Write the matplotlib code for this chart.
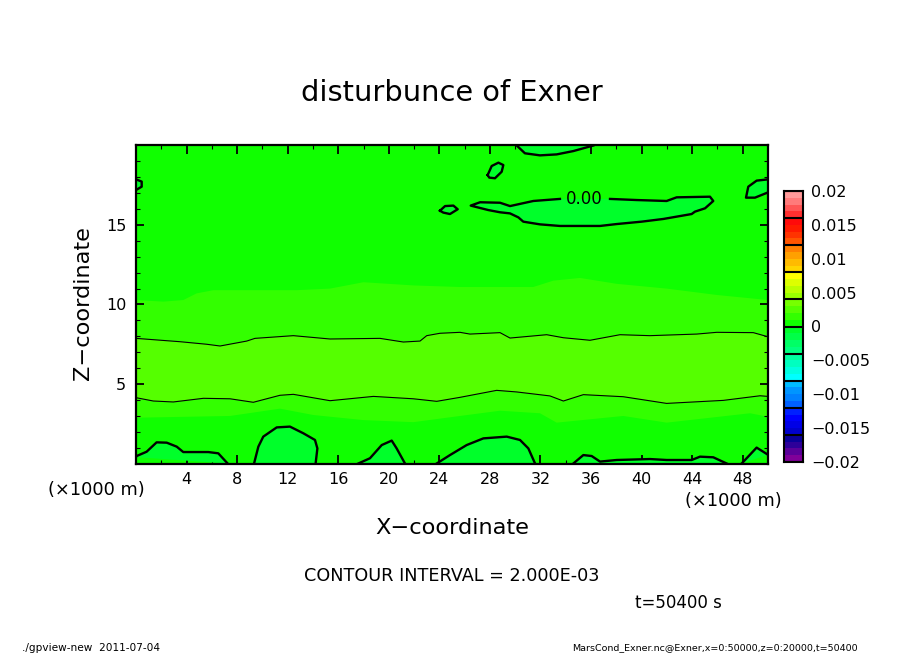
import numpy as np
from matplotlib import pyplot as plt
from matplotlib.colors import ListedColormap, BoundaryNorm

W, H = 904, 654

# colour bar, one shade for each 0.001 from -0.02 up to 0.02
shade_levels = np.arange(-20, 21) * 0.001
shades = [
    '#800099', '#5a0099', '#2d0099', '#0a0099',
    '#0000cc', '#0000e6', '#0000ff', '#0020ff',
    '#0060ff', '#0080ff', '#0095ff', '#00bbff',
    '#00ffff', '#00ffe0', '#00ffc0', '#00ffa0',
    '#00ff80', '#00ff66', '#00ff48', '#00ff2a',
    '#10ff00', '#33ff00', '#55ff00', '#77ff00',
    '#99ff00', '#bbff00', '#ddff00', '#ffff00',
    '#ffd500', '#ffbb00', '#ffa000', '#ff8000',
    '#ff5500', '#ff3300', '#ff1a00', '#ff0a0a',
    '#ff3030', '#ff5555', '#ff7a7a', '#ff9999',
]
shade_values = shade_levels[:-1] + 0.0005
bar_lines = np.arange(-5, 6) * 0.004
bar_ticks = [-0.02, -0.015, -0.01, -0.005, 0, 0.005, 0.01, 0.015, 0.02]
bar_labels = ['\u22120.02', '\u22120.015', '\u22120.01', '\u22120.005', '0', '0.005', '0.01', '0.015', '0.02']

# contour of 0.002, upper and lower one (km)
upper2_x = [0, 3.48, 5.59, 6.65, 8.76, 9.41, 12.45, 15.35, 19.3, 21.15, 22.47, 23.0, 24.05, 25.63, 26.42,
            28.8, 29.59, 32.49, 33.81, 35.92, 38.29, 40.66, 44.36, 45.94, 48.84, 50]
upper2_z = [7.87, 7.66, 7.5, 7.39, 7.7, 7.87, 8.04, 7.83, 7.87, 7.64, 7.7, 8.04, 8.19, 8.25, 8.14,
            8.23, 7.89, 8.1, 7.91, 7.75, 8.1, 8.04, 8.14, 8.25, 8.23, 7.97]
lower2_x = [0, 1.37, 2.95, 5.33, 7.44, 9.28, 11.39, 12.45, 15.35, 18.78, 21.94, 23.79, 25.63,
            28.53, 30.12, 32.75, 33.81, 35.39, 38.55, 41.98, 46.47, 49.37, 50]
lower2_z = [4.14, 3.93, 3.87, 4.1, 4.07, 3.85, 4.29, 4.35, 3.95, 4.22, 4.07, 3.91, 4.16,
            4.6, 4.5, 4.25, 3.93, 4.33, 4.2, 3.78, 3.97, 4.26, 4.22]

# edge of the 0.001 shade
upper1_x = [0, 2.16, 3.74, 4.8, 6.12, 12.71, 15.35, 17.99, 21.94, 25.63, 31.43, 33.02, 35.13, 38.03, 41.98, 45.94, 50]
upper1_z = [10.28, 10.18, 10.28, 10.7, 10.9, 10.9, 11.0, 11.4, 11.2, 11.1, 11.1, 11.5, 11.67, 11.3, 11.0, 10.6, 10.28]
lower1_x = [0, 7.44, 11.39, 14.03, 18.0, 21.94, 25.63, 28.8, 31.96, 33.28, 38.55, 41.98, 48.58, 50]
lower1_z = [2.88, 2.99, 3.45, 3.05, 2.73, 2.6, 2.99, 3.32, 3.16, 2.57, 2.99, 2.57, 3.16, 2.94]

# zero contour, patches along the ground
patch1_x = [0, 0.05, 0.84, 1.63, 2.43, 3.22, 3.74, 5.72, 6.51, 7.25]
patch1_z = [0.4, 0.47, 0.74, 1.33, 1.31, 1.06, 0.72, 0.72, 0.64, 0]
patch2_x = [9.34, 9.68, 10.07, 11.13, 12.18, 13.24, 14.16, 14.35, 14.21]
patch2_z = [0, 1.06, 1.69, 2.27, 2.32, 1.90, 1.48, 0.95, 0]
patch3_x = [17.59, 18.51, 19.44, 20.23, 20.62, 21.28]
patch3_z = [0, 0.33, 1.16, 1.44, 0.95, 0]
patch4_x = [23.79, 24.84, 26.16, 27.48, 29.33, 30.38, 31.04, 31.57]
patch4_z = [0, 0.53, 1.16, 1.58, 1.69, 1.48, 0.95, 0]
patch5_x = [34.6, 35.39, 36.05, 36.71, 38.03, 40.66, 41.98, 43.96, 44.62, 45.67, 46.73]
patch5_z = [0, 0.53, 0.47, 0.12, 0.22, 0.28, 0.22, 0.22, 0.43, 0.39, 0]
patch6_x = [47.92, 49.1, 49.9, 50]
patch6_z = [0, 1.0, 0.6, 0.55]

# zero contour, patches up high
top_x = [30.12, 30.77, 31.96, 33.28, 34.6, 36.18]
top_z = [20, 19.51, 19.38, 19.44, 19.65, 20]
small_x = [27.82, 28.14, 28.67, 29.06, 28.93, 28.4, 27.95, 27.82]
small_z = [18.14, 18.71, 18.92, 18.77, 18.35, 17.94, 17.98, 18.14]
main_x = [37.5, 39.61, 41.98, 42.77, 45.41, 45.67, 45.02, 44.22, 43.96, 41.72, 40.0, 38.03, 36.71, 33.54,
          31.96, 30.64, 30.25, 29.59, 28.8, 27.87, 26.48, 27.22, 28.8, 29.59, 31.43, 33.54]
main_z = [16.64, 16.57, 16.51, 16.74, 16.78, 16.51, 16.05, 15.84, 15.69, 15.38, 15.21, 15.06, 14.94, 14.94,
          15.04, 15.21, 15.48, 15.73, 15.80, 15.94, 16.22, 16.43, 16.40, 16.19, 16.51, 16.64]
oval_x = [24.05, 24.45, 25.11, 25.45, 24.84, 24.31, 24.05]
oval_z = [15.9, 16.19, 16.22, 15.99, 15.69, 15.78, 15.9]
left_x = [0, 0.45, 0.45, 0]
left_z = [17.87, 17.73, 17.41, 17.2]
right_x = [50, 49.1, 48.44, 48.26, 48.97, 50]
right_z = [17.87, 17.79, 17.41, 16.72, 16.72, 17.05]

ground_patches = [(patch1_x, patch1_z), (patch2_x, patch2_z), (patch3_x, patch3_z),
                  (patch4_x, patch4_z), (patch5_x, patch5_z), (patch6_x, patch6_z)]
high_patches = [(top_x, top_z), (small_x, small_z), (main_x, main_z),
                (oval_x, oval_z), (left_x, left_z), (right_x, right_z)]


def band(ax, x1, z1, x2, z2, color):
    ax.fill(list(x1) + list(x2)[::-1], list(z1) + list(z2)[::-1], color=color, lw=0, zorder=1)


def put(px, py, s, size, **kw):
    kw.setdefault('ha', 'center')
    fig.text(px / W, 1 - py / H, s, fontsize=size, va='center', **kw)


fig = plt.figure(figsize=(W / 100, H / 100), dpi=100, facecolor='white')
ax = fig.add_axes([136 / W, 1 - 463.5 / H, 632 / W, 318 / H])
ax.set_xlim(0, 50)
ax.set_ylim(0, 20)
ax.set_facecolor(shades[20])

band(ax, lower1_x, lower1_z, upper1_x, upper1_z, shades[21])
band(ax, lower2_x, lower2_z, upper2_x, upper2_z, shades[22])
ax.plot(upper2_x, upper2_z, color='k', lw=0.8, zorder=3)
ax.plot(lower2_x, lower2_z, color='k', lw=0.8, zorder=3)

for px_, pz_ in ground_patches + high_patches:
    ax.fill(px_, pz_, color=shades[19], lw=0, zorder=2)
    ax.plot(px_, pz_, color='k', lw=1.7, zorder=3)
ax.text(35.5, 16.62, '0.00', fontsize=12, ha='center', va='center', zorder=4)

ax.set_xticks(np.arange(4, 49, 4))
ax.set_xticks(np.arange(2, 50, 4), minor=True)
ax.set_yticks([5, 10, 15])
ax.set_yticks(np.arange(1, 20), minor=True)
ax.tick_params(which='major', direction='in', length=6.2, width=1.3, top=True, right=True, labelsize=11.5, pad=6)
ax.tick_params(which='minor', direction='in', length=3.2, width=0.8, top=True, right=True)
ax.tick_params(axis='y', which='major', length=6, pad=7)
for s in ax.spines.values():
    s.set_linewidth(1.6)
    s.set_zorder(5)

# colour bar
cax = fig.add_axes([784 / W, 1 - 462 / H, 19 / W, 271 / H])
cmap = ListedColormap(shades)
norm = BoundaryNorm(shade_levels, cmap.N)
cax.pcolormesh([0, 1], shade_levels, shade_values.reshape(-1, 1), cmap=cmap, norm=norm)
cax.hlines(bar_lines, 0, 1, color='k', lw=1.5)
cax.set_xlim(0, 1)
cax.set_ylim(-0.02, 0.02)
cax.set_xticks([])
cax.yaxis.tick_right()
cax.set_yticks(bar_ticks)
cax.set_yticklabels(bar_labels)
cax.tick_params(axis='y', length=0, labelsize=11.5, pad=6)
for s in cax.spines.values():
    s.set_linewidth(1.5)

put(452, 93, 'disturbunce of Exner', 20.8)
put(452, 528, 'X\u2212coordinate', 16.2)
put(83, 303, 'Z\u2212coordinate', 16.2, rotation=90)
put(96, 490, '(\u00d71000 m)', 12.8)
put(733, 501, '(\u00d71000 m)', 12.8)
put(452, 576, 'CONTOUR INTERVAL = 2.000E-03', 12.7)
put(678, 603, 't=50400 s', 12)
put(22, 648, './gpview-new  2011-07-04', 7.6, ha='left')
put(858, 648, 'MarsCond_Exner.nc@Exner,x=0:50000,z=0:20000,t=50400', 6.8, ha='right')

plt.savefig('out.png', dpi=100)
